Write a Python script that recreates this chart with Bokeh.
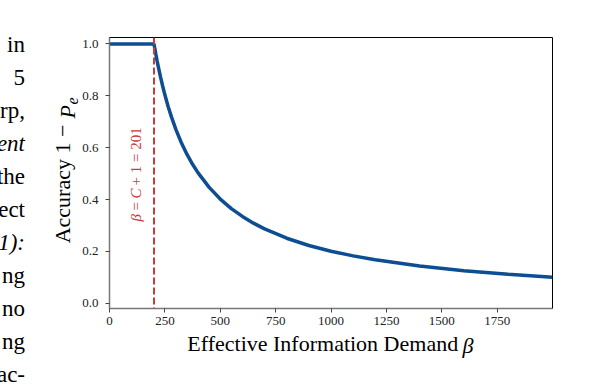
import math
from bokeh.plotting import figure
from bokeh.models import Range1d, FixedTicker, Label, Span, Div
from bokeh.layouts import row
from bokeh.embed import file_html
from bokeh.resources import INLINE

# ---- data ----
beta = [0, 100, 201, 205, 210, 215, 220, 230, 240, 250, 265, 280, 300, 325,
        350, 375, 400, 450, 500, 550, 600, 650, 700, 800, 900, 1000, 1100,
        1200, 1400, 1600, 1800, 2000]
accuracy = [1.0, 1.0, 1.0, 0.980, 0.957, 0.935, 0.914, 0.874, 0.838, 0.804,
            0.758, 0.718, 0.670, 0.618, 0.574, 0.536, 0.503, 0.447, 0.402,
            0.365, 0.335, 0.309, 0.287, 0.251, 0.223, 0.201, 0.183, 0.168,
            0.144, 0.126, 0.112, 0.1005]
threshold = 201
x_ticks = [0, 250, 500, 750, 1000, 1250, 1500, 1750]
y_ticks = [0.0, 0.2, 0.4, 0.6, 0.8, 1.0]
body_lines = ["in", "5", "rp,", "ent", "the", "ect", "1):", "ng", "no", "ng", "ac-"]
body_italic = [False, False, False, True, False, False, True, False, False, False, False]

SERIF = "Liberation Serif"
BLUE = "#0d4d92"
RED = "#cc3b3b"
NB = "\u00a0"

DIV_W = 25
FL, FT, FW, FH = 84, 37, 443, 271
W, H = 575, 377
X0, X1 = 0, 2000
Y0, Y1 = -0.02, 1.025

p = figure(width=W, height=H, output_backend="svg", toolbar_location=None,
           x_range=Range1d(X0, X1), y_range=Range1d(Y0, Y1),
           min_border_left=FL, min_border_top=FT,
           min_border_right=W - FL - FW, min_border_bottom=H - FT - FH,
           frame_width=FW, frame_height=FH)
p.grid.visible = False
p.background_fill_color = "white"
p.border_fill_color = "white"
p.outline_line_color = "black"
p.outline_line_width = 1

for ax in (p.xaxis[0], p.yaxis[0]):
    ax.axis_line_color = "#777777"
    ax.axis_line_width = 1.5
    ax.major_tick_line_color = "#444444"
    ax.major_tick_out = 4
    ax.major_tick_in = 0
    ax.minor_tick_line_color = None
    ax.major_label_text_font = SERIF
    ax.major_label_text_font_size = "13px"
    ax.major_label_text_color = "#222222"
    ax.axis_label_text_font = SERIF
    ax.axis_label_text_font_size = "22px"
    ax.axis_label_text_font_style = "normal"
    ax.axis_label_text_color = "black"

p.xaxis.major_label_standoff = 4
p.yaxis.major_label_standoff = 7
p.xaxis.ticker = FixedTicker(ticks=x_ticks)
p.yaxis.ticker = FixedTicker(ticks=y_ticks)
p.yaxis.major_label_overrides = {t: f"{t:.1f}" for t in y_ticks}
p.xaxis.major_label_overrides = {t: str(t) for t in x_ticks}
p.xaxis.axis_label = "Effective Information Demand" + NB * 3
p.xaxis.axis_label_standoff = 3
p.yaxis.axis_label = "Accuracy 1 −" + NB * 4
p.yaxis.axis_label_standoff = 4


def clabel(px, py, text, side=None, **kw):
    """Label placed in canvas pixels (top-left origin of the figure)."""
    base = dict(text_font=SERIF, text_color="black", text_baseline="middle")
    base.update(kw)
    lab = Label(x=px, y=py, x_units="canvas", y_units="canvas", text=text, **base)
    if side is None:
        p.add_layout(lab)
    else:
        p.add_layout(lab, side)


p.add_layout(Span(location=threshold, dimension="height", line_color=RED,
                  line_width=2, line_dash="7 3"))
p.line(beta, accuracy, line_color=BLUE, line_width=3.5)

# red rotated annotation: beta = C + 1 = 201 (drawn bottom-up)
for txt, style, py in [("β", "italic", 221), ("=", "normal", 210),
                       ("C", "italic", 198), ("+ 1 = 201", "normal", 185)]:
    clabel(110, py, txt, angle=math.pi / 2, text_font_style=style,
           text_font_size="15px", text_color=RED, text_align="left")

# italic pieces of the axis titles (in side panels so they are not clipped)
clabel(437, 345, "β", side="above", text_font_size="22px",
       text_font_style="italic", text_align="left")
clabel(42, 118, "P", side="right", angle=math.pi / 2, text_font_size="22px",
       text_font_style="italic", text_align="left")
clabel(47, 104, "e", side="left", angle=math.pi / 2, text_font_size="16px",
       text_font_style="italic", text_align="left")

# cropped body text of the page at the left edge
lines_html = "".join(
    f'<div style="height:33px;line-height:33px">{"<i>" + t + "</i>" if it else t}</div>'
    for t, it in zip(body_lines, body_italic))
body = Div(text=f'<div style="width:70px;margin-left:-45px;text-align:right;'
                f'white-space:nowrap;font-family:\'{SERIF}\';font-size:23px;'
                f'color:black;padding-top:28px">{lines_html}</div>',
           width=DIV_W, height=H, margin=0)

layout = row(body, p, spacing=0)
open("out.html", "w").write(file_html(layout, INLINE))
